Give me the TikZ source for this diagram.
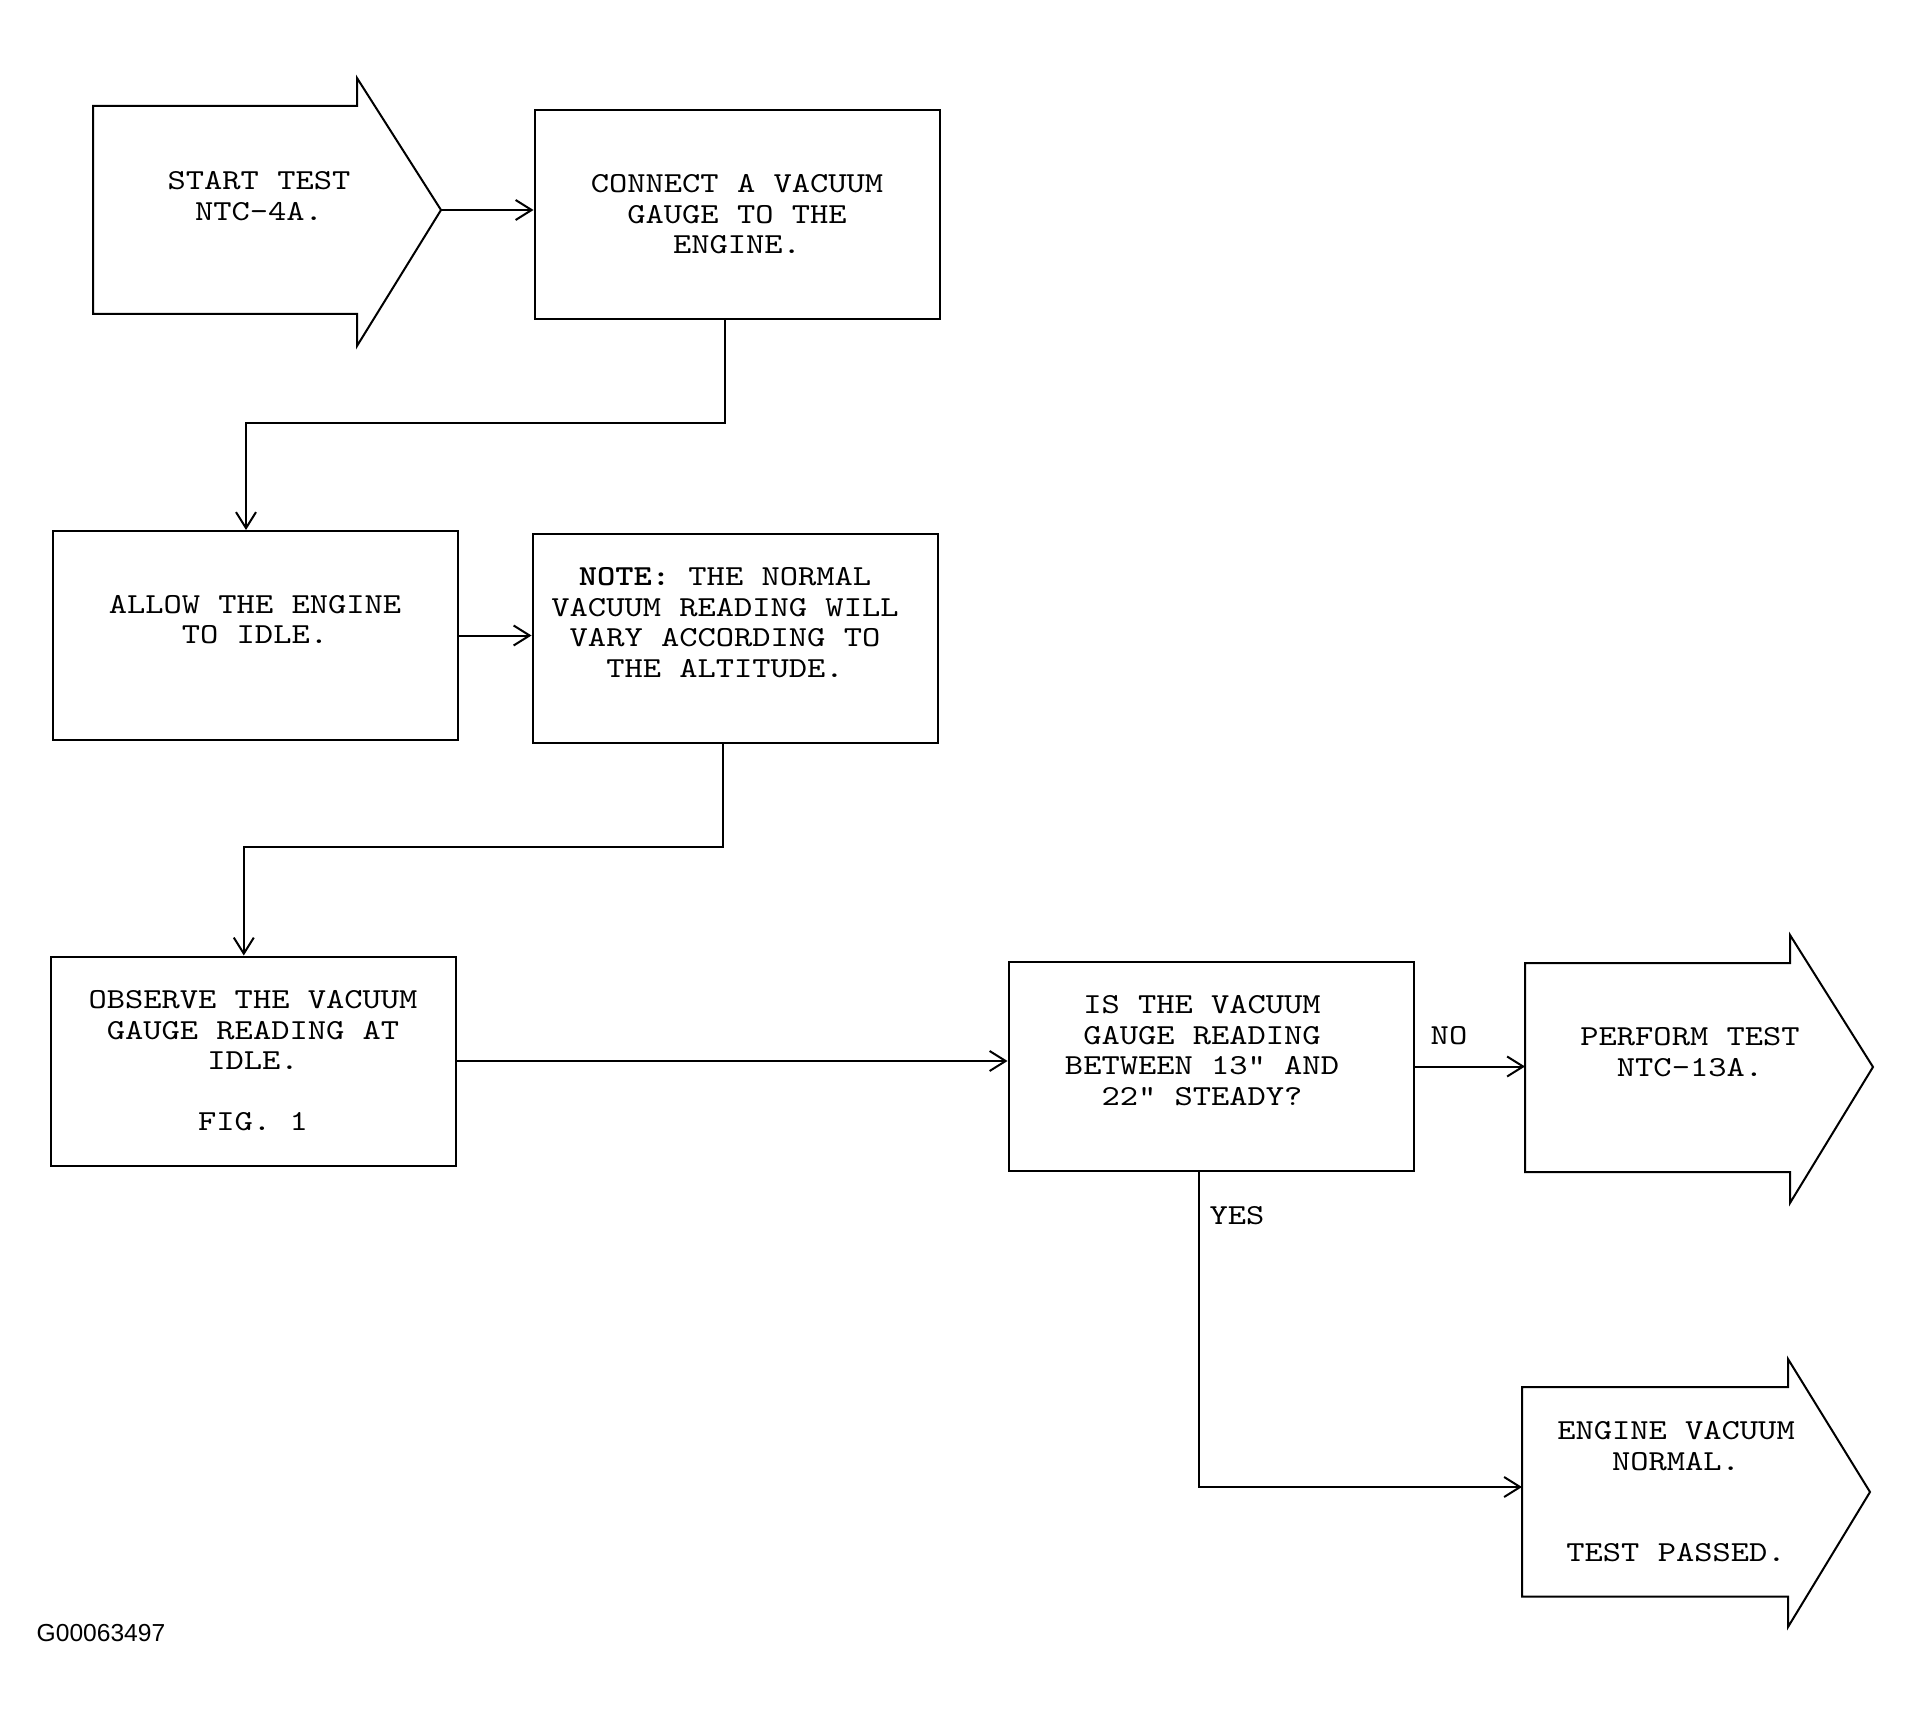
\documentclass[tikz,border=0pt]{standalone}
\usepackage{fontspec}
\setmonofont{lmmono10-regular.otf}[BoldFont=lmmonolt10-bold.otf, FakeStretch=1.2]
\newfontfamily\codefont{Liberation Sans}
\usepackage{tikz}
\usetikzlibrary{arrows.meta, calc}
\tikzstyle{stepbox}=[rectangle, draw, line width=1pt, minimum width=202.5pt, minimum height=104.5pt, inner sep=0pt]
\tikzstyle{steptext}=[font=\ttfamily\fontsize{14.5pt}{15.25pt}\selectfont, align=center, inner sep=0pt]
\tikzstyle{bigarrow}=[draw, line width=1pt, line join=miter]
\tikzstyle{flow}=[line width=1pt, -{Straight Barb[length=8pt, width=10pt, line width=1pt]}]

\begin{document}
\begin{tikzpicture}[x=0.5pt, y=-0.5pt]
\useasboundingbox (0,0) rectangle (1911,1717);

% Start arrow
\draw[bigarrow] (93,106) -- (357,106) -- (357,78) -- (441,210) -- (357,346) -- (357,314) -- (93,314) -- cycle;
\coordinate (starttip) at (441,210);
\node[steptext] (start) at (259,196) {START TEST\\NTC-4A.};

% Boxes
\node[stepbox] (connect) at (737,214.5) {};
\node[steptext] (connecttext) at (connect.center) {CONNECT A VACUUM\\GAUGE TO THE\\ENGINE.};

\node[stepbox] (allow) at (255,635.5) {};
\node[steptext] (allowtext) at ([yshift=8pt]allow.center) {ALLOW THE ENGINE\\TO IDLE.};

\node[stepbox] (note) at (735,638.5) {};
\node[steptext] (notetext) at ([xshift=-5pt, yshift=8pt]note.center) {\textbf{NOTE:} THE NORMAL\\VACUUM READING WILL\\VARY ACCORDING TO\\THE ALTITUDE.};

\node[stepbox] (observe) at (253,1061) {};
\node[steptext] (observetext) at (observe.center) {OBSERVE THE VACUUM\\GAUGE READING AT\\IDLE.\\[15.25pt]FIG. 1};

\node[stepbox] (isthe) at (1211,1066.5) {};
\node[steptext] (isthetext) at ([xshift=-4.5pt, yshift=8pt]isthe.center) {IS THE VACUUM\\GAUGE READING\\BETWEEN 13" AND\\22" STEADY?};

% End arrows
\draw[bigarrow] (1525,963) -- (1790,963) -- (1790,935) -- (1873,1067) -- (1790,1203) -- (1790,1172) -- (1525,1172) -- cycle;
\coordinate (performin) at (1525,1066.5);
\node[steptext] (perform) at (1690,1052) {PERFORM TEST\\NTC-13A.};

\draw[bigarrow] (1522,1387) -- (1788,1387) -- (1788,1359) -- (1870,1492) -- (1788,1627) -- (1788,1596.5) -- (1522,1596.5) -- cycle;
\coordinate (enginein) at (1522,1487);
\node[steptext] (engine) at (1676,1492) {ENGINE VACUUM\\NORMAL.\\[30.5pt]TEST PASSED.};

% Connectors
\draw[flow] (starttip) -- (starttip -| connect.west);

\coordinate (bend1) at (725,423);
\draw[flow] ([xshift=-6pt]connect.south) |- (bend1) -| ([xshift=-4.5pt]allow.north);

\draw[flow] (allow.east) -- (allow.east -| note.west);

\coordinate (bend2) at (723,847);
\draw[flow] ([xshift=-6pt]note.south) |- (bend2) -| ([xshift=-4.6pt]observe.north);

\draw[flow] (observe.east) -- (observe.east -| isthe.west);

\draw[flow] (isthe.east) -- (performin);
\node[steptext] (no) at (1449,1036) {NO};

\draw[flow] ([xshift=-5.8pt]isthe.south) |- (enginein);
\node[steptext] (yes) at (1237,1216) {YES};

\node[font=\codefont\fontsize{12.3pt}{14pt}\selectfont, inner sep=0pt] (code) at (101,1633) {G00063497};

\end{tikzpicture}
\end{document}
